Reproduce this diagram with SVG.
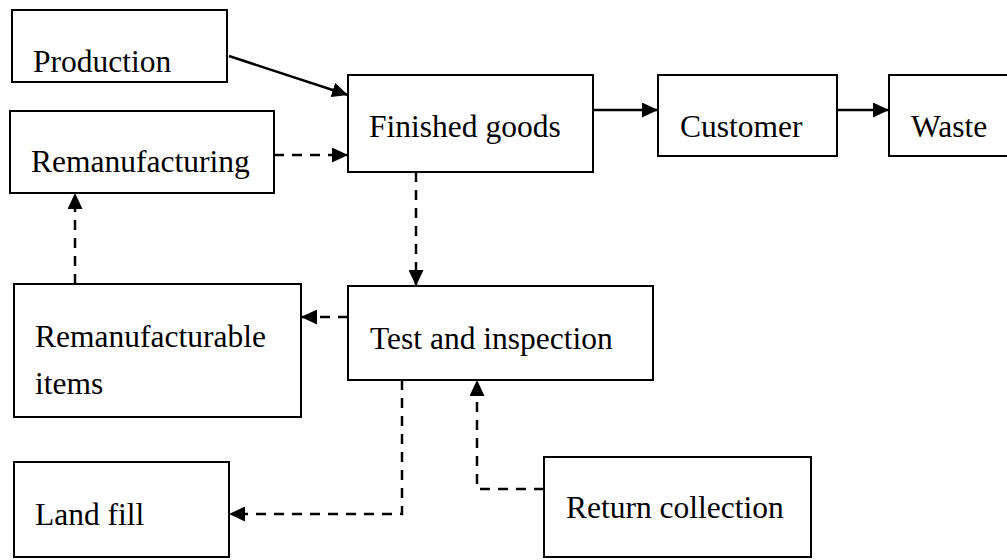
<svg xmlns="http://www.w3.org/2000/svg" width="1007" height="560" viewBox="0 0 1007 560">
  <style>
    .box { fill: #ffffff; stroke: #000000; stroke-width: 2; }
    .lbl { font-family: "Liberation Serif", "Times New Roman", serif; font-size: 31.5px; fill: #000000; }
    .solid { fill: none; stroke: #000000; stroke-width: 2.5; }
    .dash { fill: none; stroke: #000000; stroke-width: 2.5; stroke-dasharray: 10 8; }
  </style>
  <defs>
    <marker id="head" markerUnits="userSpaceOnUse" markerWidth="17" markerHeight="15" refX="16" refY="7.5" orient="auto">
      <path d="M0,0 L16,7.5 L0,15 Z" fill="#000000"/>
    </marker>
  </defs>

  <rect x="0" y="0" width="1007" height="560" fill="#ffffff"/>

  <g id="production">
    <rect class="box" x="12" y="10" width="215" height="72"/>
    <text class="lbl" x="33" y="72">Production</text>
  </g>
  <g id="remanufacturing">
    <rect class="box" x="10" y="111" width="264" height="82"/>
    <text class="lbl" x="31" y="172">Remanufacturing</text>
  </g>
  <g id="finished-goods">
    <rect class="box" x="348" y="75" width="245" height="97"/>
    <text class="lbl" x="369" y="137">Finished goods</text>
  </g>
  <g id="customer">
    <rect class="box" x="658" y="75" width="179" height="81"/>
    <text class="lbl" x="680" y="137">Customer</text>
  </g>
  <g id="waste">
    <rect class="box" x="889" y="75" width="130" height="81"/>
    <text class="lbl" x="911" y="137">Waste</text>
  </g>
  <g id="test-inspection">
    <rect class="box" x="348" y="286" width="305" height="94"/>
    <text class="lbl" x="370" y="349">Test and inspection</text>
  </g>
  <g id="remanufacturable-items">
    <rect class="box" x="14" y="284" width="287" height="133"/>
    <text class="lbl" x="35" y="347">Remanufacturable</text>
    <text class="lbl" x="35" y="394">items</text>
  </g>
  <g id="land-fill">
    <rect class="box" x="14" y="462" width="215" height="95"/>
    <text class="lbl" x="35" y="525">Land fill</text>
  </g>
  <g id="return-collection">
    <rect class="box" x="544" y="457" width="267" height="100"/>
    <text class="lbl" x="566" y="518">Return collection</text>
  </g>

  <g id="connectors">
    <line class="solid" x1="229" y1="56" x2="348" y2="95" marker-end="url(#head)"/>
    <line class="solid" x1="593" y1="110" x2="658" y2="110" marker-end="url(#head)"/>
    <line class="solid" x1="837" y1="110" x2="889" y2="110" marker-end="url(#head)"/>
    <line class="dash" x1="274" y1="155" x2="348" y2="155" marker-end="url(#head)"/>
    <line class="dash" x1="416" y1="172" x2="416" y2="286" marker-end="url(#head)"/>
    <line class="dash" x1="348" y1="317" x2="301" y2="317" marker-end="url(#head)"/>
    <line class="dash" x1="75" y1="284" x2="75" y2="193" marker-end="url(#head)"/>
    <polyline class="dash" points="402,380 402,514 229,514" marker-end="url(#head)"/>
    <polyline class="dash" points="544,489 477,489 477,380" marker-end="url(#head)"/>
  </g>
</svg>
